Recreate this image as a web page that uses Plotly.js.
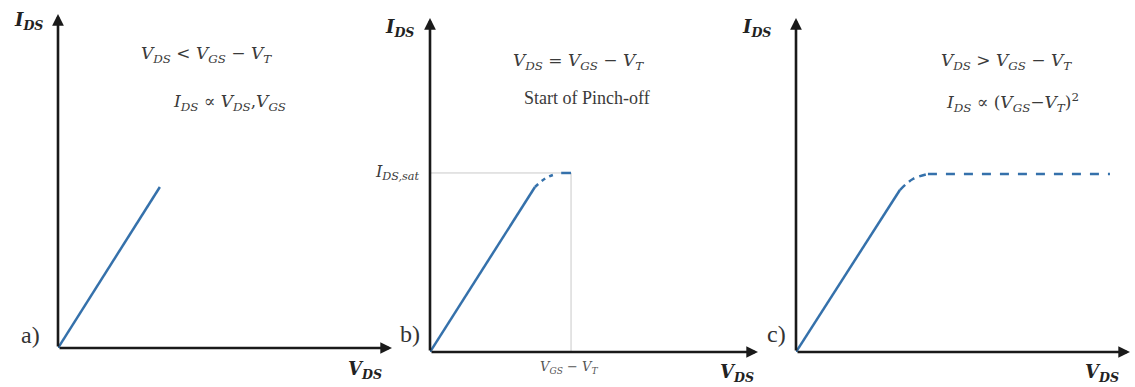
<!DOCTYPE html>
<html>
<head>
<meta charset="utf-8">
<script src="https://cdn.plot.ly/plotly-3.0.1.min.js"></script>
<style>
  html, body { margin: 0; padding: 0; background: #ffffff; }
  #chart { width: 1135px; height: 387px; }
</style>
</head>
<body>
<div id="chart"></div>
<script>
// MOSFET output characteristic in three operating regions (arbitrary units)

// a) linear region: V_DS < V_GS - V_T
const vdsLinearA = [0, 3.05];
const idsLinearA = [0, 4.82];

// b) start of pinch-off: V_DS = V_GS - V_T
const vdsLinearB = [0, 3.2];
const idsLinearB = [0, 4.94];
const vdsKneeB = [3.2, 3.55, 3.85];
const idsKneeB = [4.94, 5.22, 5.33];
const vdsFlatB = [4.0, 4.3];
const idsFlatB = [5.36, 5.36];
const vdsSatB = 4.3;
const idsSatB = 5.36;

// c) saturation region: V_DS > V_GS - V_T
const vdsLinearC = [0, 3.11];
const idsLinearC = [0, 4.85];
const vdsKneeC = [3.11, 3.5, 3.95];
const idsKneeC = [4.85, 5.18, 5.33];
const vdsFlatC = [3.95, 9.4];
const idsFlatC = [5.33, 5.33];

const axisMax = 10;

const W = 1135, H = 387;
const px = v => v / W;
const py = v => 1 - v / H;

const curveColor = '#3571ab';
const mathFont = 'DejaVu Serif';
const textFont = 'Liberation Serif';

function solid(x, y, xa, ya) {
  return { x, y, xaxis: xa, yaxis: ya, mode: 'lines', hoverinfo: 'skip',
           line: { color: curveColor, width: 2.5 } };
}
function dashed(x, y, xa, ya) {
  return { x, y, xaxis: xa, yaxis: ya, mode: 'lines', hoverinfo: 'skip',
           line: { color: curveColor, width: 2.5, dash: '9px,9px' } };
}

const traces = [
  solid(vdsLinearA, idsLinearA, 'x', 'y'),

  solid(vdsLinearB, idsLinearB, 'x2', 'y2'),
  { x: vdsKneeB, y: idsKneeB, xaxis: 'x2', yaxis: 'y2', mode: 'lines', hoverinfo: 'skip',
    line: { color: curveColor, width: 2.5, dash: '4px,5px', shape: 'spline', smoothing: 1 } },
  { x: vdsFlatB, y: idsFlatB, xaxis: 'x2', yaxis: 'y2', mode: 'lines', hoverinfo: 'skip',
    line: { color: curveColor, width: 2.5 } },

  solid(vdsLinearC, idsLinearC, 'x3', 'y3'),
  { x: vdsKneeC, y: idsKneeC, xaxis: 'x3', yaxis: 'y3', mode: 'lines', hoverinfo: 'skip',
    line: { color: curveColor, width: 2.5, dash: '7px,5px', shape: 'spline', smoothing: 1 } },
  dashed(vdsFlatC, idsFlatC, 'x3', 'y3')
];

function hiddenAxis(domain, anchor) {
  return { domain, anchor, range: [0, axisMax], showgrid: false, zeroline: false,
           showline: false, showticklabels: false, ticks: '', fixedrange: true };
}

const layout = {
  width: W, height: H,
  margin: { l: 0, r: 0, t: 0, b: 0 },
  paper_bgcolor: '#ffffff', plot_bgcolor: 'rgba(0,0,0,0)',
  showlegend: false,
  xaxis:  hiddenAxis([px(58), px(392)], 'y'),
  yaxis:  hiddenAxis([py(348), py(14)], 'x'),
  xaxis2: hiddenAxis([px(430), px(758)], 'y2'),
  yaxis2: hiddenAxis([py(352), py(18)], 'x2'),
  xaxis3: hiddenAxis([px(796), px(1130)], 'y3'),
  yaxis3: hiddenAxis([py(352), py(18)], 'x3'),
  shapes: [
    // pinch-off guide lines in panel b
    { type: 'line', xref: 'x2', yref: 'y2', x0: 0, x1: vdsSatB, y0: idsSatB, y1: idsSatB,
      line: { color: '#c9c9c9', width: 1 }, layer: 'below' },
    { type: 'line', xref: 'x2', yref: 'y2', x0: vdsSatB, x1: vdsSatB, y0: 0, y1: idsSatB,
      line: { color: '#c9c9c9', width: 1 }, layer: 'below' }
  ],
  annotations: []
};

// axis arrows for each panel
[['x', 'y'], ['x2', 'y2'], ['x3', 'y3']].forEach(([xa, ya]) => {
  const base = { text: '', showarrow: true, xref: xa, yref: ya, axref: xa, ayref: ya,
                 ax: 0, ay: 0, arrowhead: 2, arrowsize: 0.9, arrowwidth: 2.6, arrowcolor: '#1a1a1a' };
  layout.annotations.push(Object.assign({}, base, { x: axisMax, y: 0 }));
  layout.annotations.push(Object.assign({}, base, { x: 0, y: axisMax }));
});

function label(text, x, y, size, family, color) {
  layout.annotations.push({ text, x: px(x), y: py(y), xref: 'paper', yref: 'paper',
    showarrow: false, xanchor: 'center', yanchor: 'middle',
    font: { family: family, size: size, color: color || '#3a3a3a' } });
}

const IDS = '<b><i>I<sub>DS</sub></i></b>';
const VDS = '<b><i>V<sub>DS</sub></i></b>';
label(IDS, 28, 21, 18, mathFont, '#222222');
label(IDS, 399, 28, 18, mathFont, '#222222');
label(IDS, 756, 28, 18, mathFont, '#222222');
label(VDS, 365, 370, 18, mathFont, '#222222');
label(VDS, 737, 373, 18, mathFont, '#222222');
label(VDS, 1102, 373, 18, mathFont, '#222222');

label('a)', 30, 335, 24, textFont, '#333333');
label('b)', 410, 334, 24, textFont, '#333333');
label('c)', 776, 334, 24, textFont, '#333333');

label('<i>V<sub>DS</sub></i> &lt; <i>V<sub>GS</sub></i> − <i>V<sub>T</sub></i>', 206, 54, 17, mathFont);
label('<i>I<sub>DS</sub></i> ∝ <i>V<sub>DS</sub></i>,<i>V<sub>GS</sub></i>', 229, 102, 17, mathFont);

label('<i>V<sub>DS</sub></i> = <i>V<sub>GS</sub></i> − <i>V<sub>T</sub></i>', 578, 62, 17, mathFont);
label('Start of Pinch-off', 587, 98, 18, textFont);
label('<i>I<sub>DS,sat</sub></i>', 397, 172, 16, mathFont);
label('<i>V<sub>GS</sub></i> − <i>V<sub>T</sub></i>', 569, 367, 13, mathFont, '#555555');

label('<i>V<sub>DS</sub></i> &gt; <i>V<sub>GS</sub></i> − <i>V<sub>T</sub></i>', 1006, 62, 17, mathFont);
label('<i>I<sub>DS</sub></i> ∝ (<i>V<sub>GS</sub></i>−<i>V<sub>T</sub></i>)<sup>2</sup>', 1012, 102, 17, mathFont);

Plotly.newPlot('chart', traces, layout, { displayModeBar: false, staticPlot: true });
</script>
</body>
</html>
